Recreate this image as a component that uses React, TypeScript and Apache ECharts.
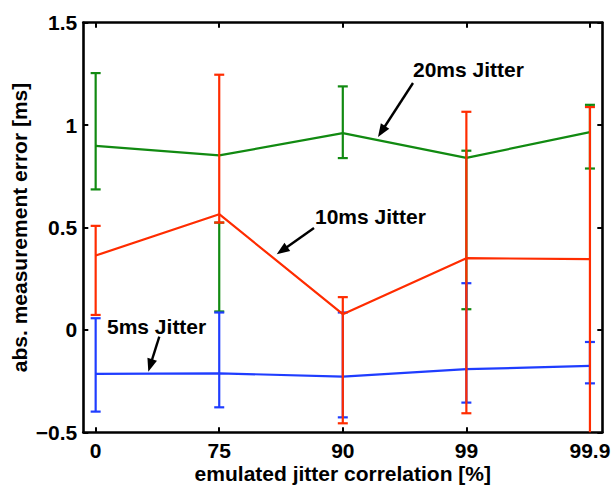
import React, { useEffect, useRef } from "react";
import * as echarts from "echarts";

const categories = ["0", "75", "90", "99", "99.9"];
const yTicks = [-0.5, 0, 0.5, 1, 1.5];

const jitter20 = [0.899, 0.852, 0.961, 0.84, 0.966];
const jitter20Low = [0.686, 0.09, 0.839, 0.101, 0.788];
const jitter20High = [1.254, 0.524, 1.189, 0.875, 1.099];

const jitter10 = [0.363, 0.565, 0.077, 0.35, 0.346];
const jitter10Low = [0.073, 0.524, -0.456, -0.407, -0.56];
const jitter10High = [0.508, 1.246, 0.16, 1.065, 1.088];

const jitter5 = [-0.215, -0.212, -0.228, -0.192, -0.176];
const jitter5Low = [-0.399, -0.378, -0.427, -0.355, -0.261];
const jitter5High = [0.057, 0.085, 0.085, 0.228, -0.059];

const GREEN = "#118a11";
const RED = "#ff2c00";
const BLUE = "#1f3dff";
const FONT = "'Liberation Sans', Arial, Helvetica, sans-serif";

function lineData(vals: number[]) {
  return vals.map((v, i) => [i, v]);
}
function errData(lo: number[], hi: number[]) {
  return lo.map((l, i) => [i, l, hi[i]]);
}

function errSeries(name: string, lo: number[], hi: number[], color: string, z: number) {
  return {
    type: "custom",
    name,
    z,
    data: errData(lo, hi),
    encode: { x: 0, y: [1, 2] },
    renderItem: (params: any, api: any) => {
      const x = api.value(0);
      const pLo = api.coord([x, api.value(1)]);
      const pHi = api.coord([x, api.value(2)]);
      const cs = params.coordSys;
      const yMin = cs.y;
      const yMax = cs.y + cs.height;
      const top = Math.max(pHi[1], yMin);
      const bot = Math.min(pLo[1], yMax);
      const cap = 5;
      const st = { stroke: color, lineWidth: 2.2 };
      const children: any[] = [
        { type: "line", shape: { x1: pLo[0], y1: bot, x2: pLo[0], y2: top }, style: st },
      ];
      if (pHi[1] >= yMin)
        children.push({ type: "line", shape: { x1: pHi[0] - cap, y1: pHi[1], x2: pHi[0] + cap, y2: pHi[1] }, style: st });
      if (pLo[1] <= yMax)
        children.push({ type: "line", shape: { x1: pLo[0] - cap, y1: pLo[1], x2: pLo[0] + cap, y2: pLo[1] }, style: st });
      return { type: "group", children };
    },
  };
}

function arrow(x1: number, y1: number, x2: number, y2: number) {
  const dx = x2 - x1;
  const dy = y2 - y1;
  const L = Math.hypot(dx, dy);
  const ux = dx / L;
  const uy = dy / L;
  const hl = 13;
  const hw = 5;
  const bx = x2 - ux * hl;
  const by = y2 - uy * hl;
  return [
    { type: "line", z: 100, shape: { x1, y1, x2: bx + ux * 2, y2: by + uy * 2 }, style: { stroke: "#000", lineWidth: 2.4 } },
    {
      type: "polygon",
      z: 100,
      shape: { points: [[x2, y2], [bx - uy * hw, by + ux * hw], [bx + uy * hw, by - ux * hw]] },
      style: { fill: "#000" },
    },
  ];
}

function label(text: string, x: number, y: number) {
  return {
    type: "text",
    z: 100,
    x,
    y,
    style: {
      text,
      fill: "#000",
      fontFamily: FONT,
      fontWeight: "bold",
      fontSize: 21,
      align: "left",
      verticalAlign: "middle",
    },
  };
}

const lineSeries = (name: string, vals: number[], color: string, z: number) => ({
  type: "line",
  name,
  z,
  data: lineData(vals),
  symbol: "none",
  lineStyle: { color, width: 2.2 },
  itemStyle: { color },
});

export default function App() {
  const ref = useRef<HTMLDivElement>(null);
  useEffect(() => {
    if (!ref.current) return;
    const chart = echarts.init(ref.current, null, { renderer: "svg" });
    const axisCommon = {
      axisLine: { show: true, onZero: false, lineStyle: { color: "#000", width: 2.6 } },
      splitLine: { show: false },
    };
    const tickStyle = { show: true, inside: true, length: 5, lineStyle: { color: "#000", width: 2 } };
    const tickIdx = categories.map((_, i) => i);
    const option: any = {
      animation: false,
      backgroundColor: "#fff",
      grid: { left: 83.3, right: 9.7, top: 22.7, bottom: 52.7, containLabel: false, outerBoundsMode: "none" },
      xAxis: [
        {
          type: "value",
          position: "bottom",
          min: -0.1,
          max: 4.1,
          ...axisCommon,
          axisTick: { ...tickStyle, customValues: tickIdx },
          axisLabel: {
            customValues: tickIdx,
            formatter: (v: number) => categories[Math.round(v)] ?? "",
            color: "#000",
            fontFamily: FONT,
            fontWeight: "bold",
            fontSize: 21,
            margin: 8,
          },
          name: "emulated jitter correlation [%]",
          nameLocation: "middle",
          nameGap: 31,
          nameMoveOverlap: false,
          nameTextStyle: { color: "#000", fontFamily: FONT, fontWeight: "bold", fontSize: 21, lineHeight: 20 },
        },
        {
          type: "value",
          position: "top",
          min: -0.1,
          max: 4.1,
          ...axisCommon,
          axisTick: { ...tickStyle, customValues: tickIdx },
          axisLabel: { show: false, customValues: tickIdx },
        },
      ],
      yAxis: [
        {
          type: "value",
          position: "left",
          min: -0.5,
          max: 1.5,
          interval: 0.5,
          ...axisCommon,
          axisTick: tickStyle,
          axisLabel: {
            formatter: (v: number) => (v < 0 ? "\u2212" + String(Math.abs(v)) : String(v)),
            customValues: yTicks,
            color: "#000",
            fontFamily: FONT,
            fontWeight: "bold",
            fontSize: 21,
            margin: 6,
          },
          name: "abs. measurement error [ms]",
          nameLocation: "middle",
          nameGap: 53,
          nameMoveOverlap: false,
          nameTextStyle: { color: "#000", fontFamily: FONT, fontWeight: "bold", fontSize: 21 },
        },
        {
          type: "value",
          position: "right",
          min: -0.5,
          max: 1.5,
          interval: 0.5,
          ...axisCommon,
          axisTick: tickStyle,
          axisLabel: { show: false },
        },
      ],
      series: [
        lineSeries("20ms Jitter", jitter20, GREEN, 2),
        errSeries("20ms Jitter error", jitter20Low, jitter20High, GREEN, 2),
        lineSeries("5ms Jitter", jitter5, BLUE, 2),
        errSeries("5ms Jitter error", jitter5Low, jitter5High, BLUE, 2),
        lineSeries("10ms Jitter", jitter10, RED, 3),
        errSeries("10ms Jitter error", jitter10Low, jitter10High, RED, 4),
      ],
      graphic: [
        label("20ms Jitter", 413, 69.5),
        ...arrow(413, 83, 378, 137),
        label("10ms Jitter", 315, 216),
        ...arrow(314, 228, 276.7, 254.3),
        label("5ms Jitter", 107, 326),
        ...arrow(159.3, 336.7, 148.3, 371.7),
      ],
    };
    chart.setOption(option);
    return () => chart.dispose();
  }, []);
  return <div ref={ref} style={{ width: 612, height: 485, position: "absolute", left: 0, top: 0 }} />;
}
